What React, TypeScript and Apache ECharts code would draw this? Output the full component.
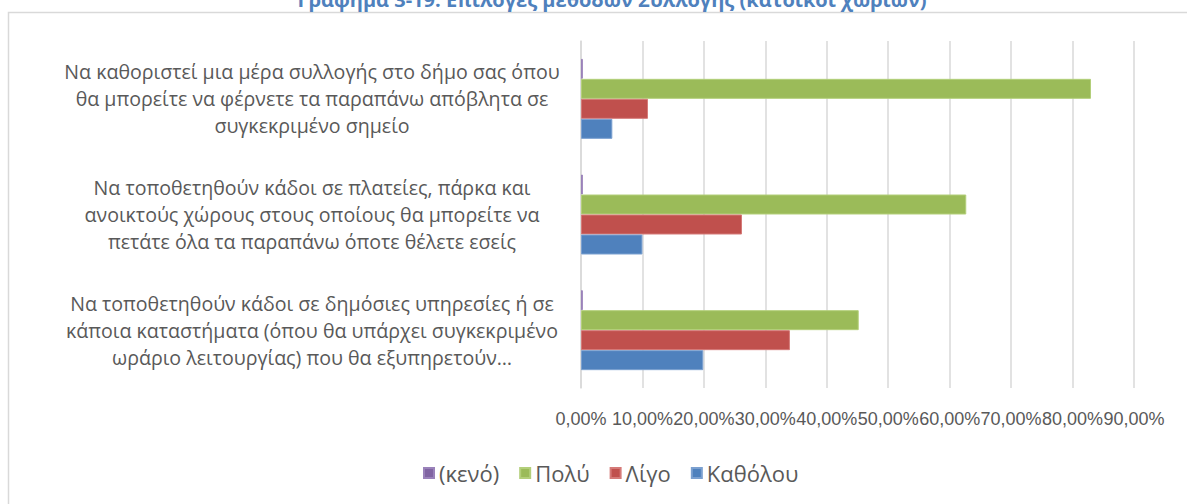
import React, { useEffect, useRef } from "react";
import * as echarts from "echarts";

const categories = [
  "Να καθοριστεί μια μέρα συλλογής στο δήμο σας όπου\nθα μπορείτε να φέρνετε τα παραπάνω απόβλητα σε\nσυγκεκριμένο σημείο",
  "Να τοποθετηθούν κάδοι σε πλατείες, πάρκα και\nανοικτούς χώρους στους οποίους θα μπορείτε να\nπετάτε όλα τα παραπάνω όποτε θέλετε εσείς",
  "Να τοποθετηθούν κάδοι σε δημόσιες υπηρεσίες ή σε\nκάποια καταστήματα (όπου θα υπάρχει συγκεκριμένο\nωράριο λειτουργίας) που θα εξυπηρετούν…",
];
const seriesNames = ["(κενό)", "Πολύ", "Λίγο", "Καθόλου"];
const kenoValues = [0.003, 0.003, 0.003];
const polyValues = [0.83, 0.627, 0.452];
const ligoValues = [0.109, 0.262, 0.34];
const katholouValues = [0.051, 0.1, 0.199];
const seriesColors = ["#8064A2", "#9BBB59", "#C0504D", "#4F81BD"];
const borderColors = ["#9A82BA", "#B3CF7A", "#D57A78", "#7BA0D0"];
const titleText = "Γράφημα 3-19: Επιλογές μεθόδων Συλλογής (κάτοικοι χωριών)";

const FONT = "'Open Sans', 'Noto Sans', sans-serif";

export default function App() {
  const ref = useRef<HTMLDivElement>(null);
  useEffect(() => {
    document.body.style.margin = "0";
    const chart = echarts.init(ref.current!, null, { renderer: "svg" });
    const values = [kenoValues, polyValues, ligoValues, katholouValues];
    chart.setOption({
      animation: false,
      backgroundColor: "#ffffff",
      textStyle: { fontFamily: FONT },
      graphic: [
        {
          type: "rect",
          shape: { x: 8.5, y: 12.5, width: 1200, height: 520 },
          style: { fill: "none", stroke: "#d9d9d9", lineWidth: 1.5 },
          silent: true,
        },
        {
          type: "text",
          x: 612,
          y: 9,
          style: {
            text: titleText,
            fill: "#4F81BD",
            font: "bold 20px " + FONT,
            textAlign: "center",
            textVerticalAlign: "bottom",
          },
        },
      ],
      grid: { left: 581, right: 53, top: 41, bottom: 116, containLabel: false },
      legend: {
        data: seriesNames,
        top: 457,
        left: 418,
        icon: "rect",
        itemWidth: 10,
        itemHeight: 10,
        itemGap: 20,
        textStyle: { color: "#595959", fontSize: 22, fontFamily: FONT },
      },
      xAxis: {
        type: "value",
        min: 0,
        max: 0.9,
        interval: 0.1,
        axisLine: { show: false },
        axisTick: { show: false },
        splitLine: { show: true, lineStyle: { color: "#d9d9d9", width: 1.5 } },
        axisLabel: {
          color: "#595959",
          fontSize: 18,
          margin: 22,
          fontFamily: "'Liberation Sans', sans-serif",
          formatter: (v: number) => (v * 100).toFixed(2).replace(".", ",") + "%",
        },
      },
      yAxis: {
        type: "category",
        inverse: true,
        data: categories,
        axisLine: { show: true, lineStyle: { color: "#d9d9d9", width: 1.5 } },
        axisTick: { show: false },
        axisLabel: {
          color: "#595959",
          fontSize: 19.6,
          lineHeight: 27,
          align: "center",
          margin: 269,
        },
      },
      series: seriesNames.map((name, i) => ({
        name,
        type: "bar",
        data: values[i],
        barWidth: 20,
        barGap: "0%",
        itemStyle: { color: seriesColors[i], borderColor: borderColors[i], borderWidth: 1 },
      })),
    });
    return () => chart.dispose();
  }, []);
  return <div ref={ref} style={{ width: 1187, height: 504 }} />;
}
